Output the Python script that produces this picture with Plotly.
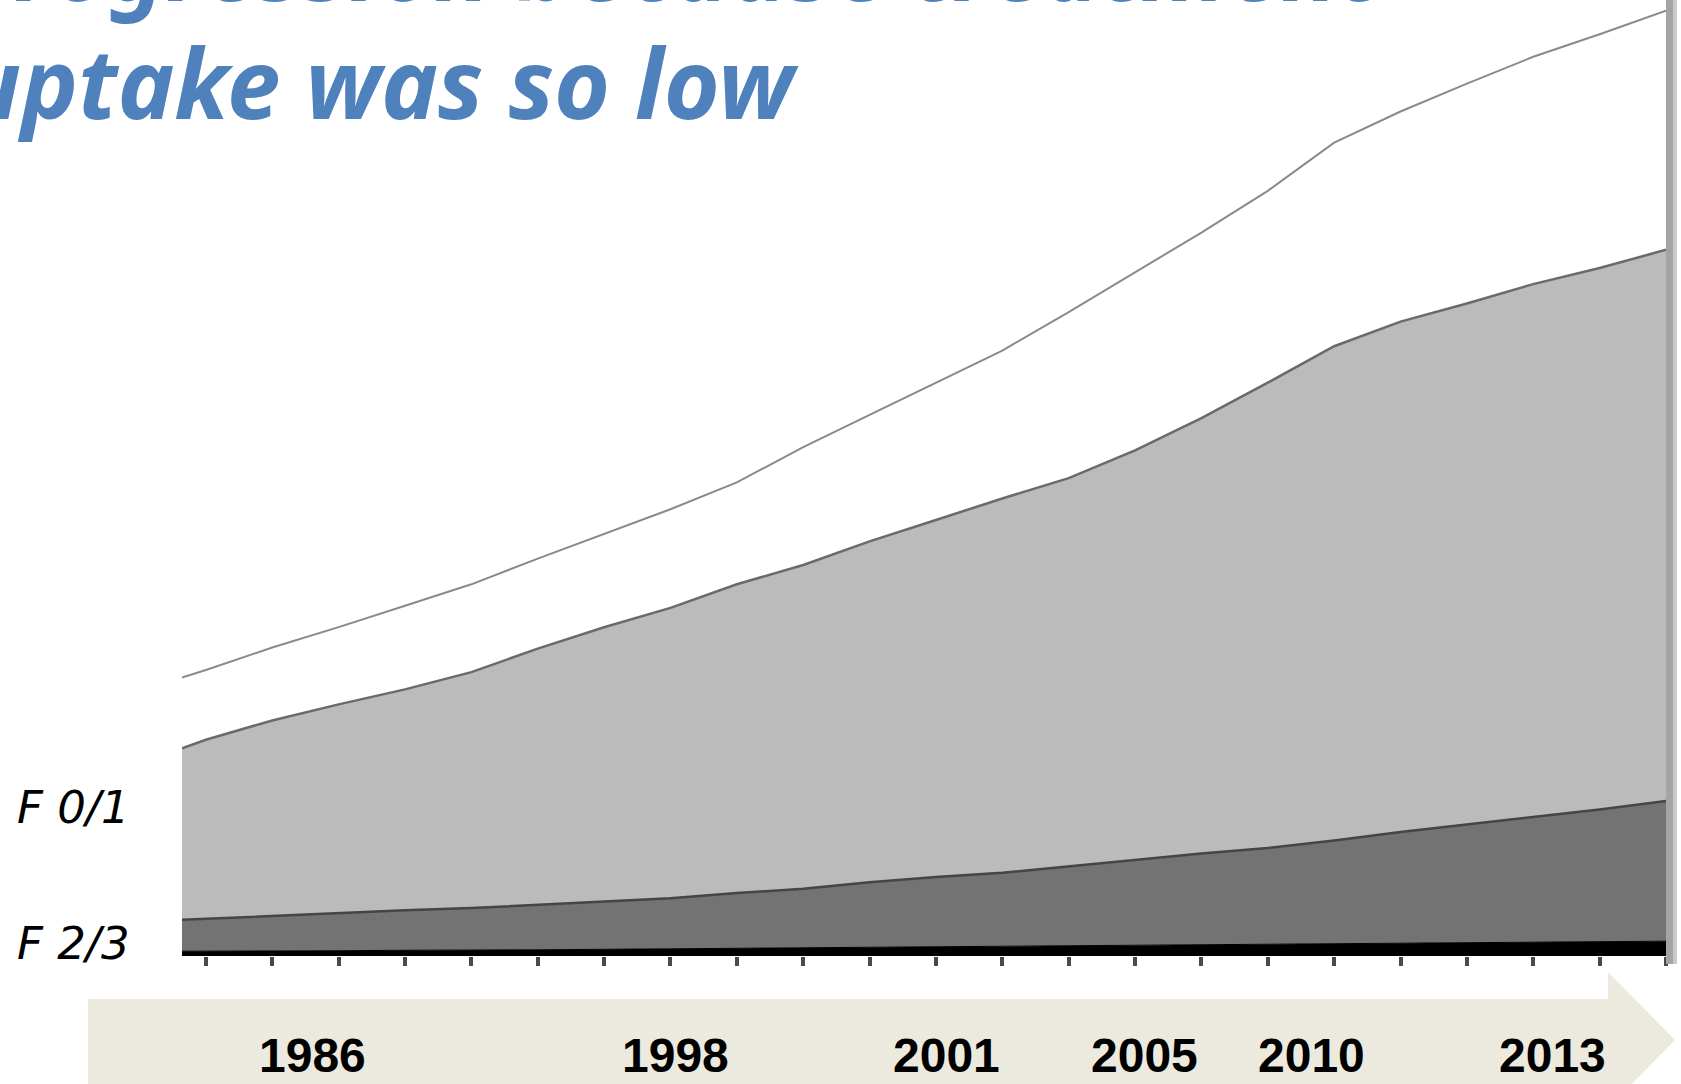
import plotly.graph_objects as go

# ---------------- data ----------------
# x grid (axis index units; ticks at integers)
x_index = [-0.36, 0, 1, 2, 3, 4, 5, 6, 7, 8, 9, 10, 11, 12, 13, 14, 15, 16,
           17, 18, 19, 20, 21, 22]

# stacked layer thicknesses, bottom to top
f4 = [0.5, 0.5, 0.5, 0.55, 0.6, 0.6, 0.65, 0.7, 0.75, 0.8, 0.85, 0.9, 0.95,
      1.0, 1.05, 1.1, 1.15, 1.2, 1.3, 1.35, 1.4, 1.45, 1.5, 1.55]
f23 = [3.28, 3.39, 3.62, 3.91, 4.19, 4.41, 4.70, 4.99, 5.28, 5.78, 6.18, 6.81,
       7.31, 7.71, 8.33, 8.96, 9.58, 10.10, 10.78, 11.63, 12.37, 13.09, 13.83,
       14.67]
f01 = [17.95, 18.73, 20.52, 21.86, 23.10, 24.68, 26.80, 28.70, 30.38, 32.30,
       33.87, 35.66, 37.35, 39.15, 40.60, 42.84, 45.53, 48.67, 51.70, 53.38,
       54.49, 55.74, 56.64, 57.65]
top_layer = [7.39, 7.29, 7.63, 8.08, 8.75, 9.19, 9.42, 9.76, 10.32, 10.66,
             12.33, 13.23, 14.36, 15.47, 17.38, 18.62, 19.41, 20.07, 21.30,
             21.98, 22.99, 23.78, 24.44, 25.01]

stage_labels = ["F 0/1", "F 2/3"]
years = ["1986", "1998", "2001", "2005", "2010", "2013"]
title_lines = ["on progression because treatment", "uptake was so low"]

# ---------------- layout helpers ----------------
W, H = 1681, 1084
L, R, T, B = 182, 15, 0, 128
PW, PH = W - L - R, H - T - B


def px(xp):
    return (xp - L) / PW


def py(yp):
    return (H - B - yp) / PH


fig = go.Figure()

fig.add_trace(go.Scatter(x=x_index, y=f4, stackgroup="s", mode="lines",
                         line=dict(color="#000000", width=1),
                         fillcolor="#000000", name="F 4"))
fig.add_trace(go.Scatter(x=x_index, y=f23, stackgroup="s", mode="lines",
                         line=dict(color="#454545", width=2.5),
                         fillcolor="#737373", name="F 2/3"))
fig.add_trace(go.Scatter(x=x_index, y=f01, stackgroup="s", mode="lines",
                         line=dict(color="#6a6a6a", width=2.5),
                         fillcolor="#BBBBBB", name="F 0/1"))
fig.add_trace(go.Scatter(x=x_index, y=top_layer, stackgroup="s", mode="lines",
                         line=dict(color="#8a8a8a", width=2),
                         fillcolor="rgba(255,255,255,0)", name="total"))

shapes = []
# timeline arrow
arrow_pts = [(88, 999), (1608, 999), (1608, 972), (1675, 1040),
             (1608, 1108), (1608, 1120), (88, 1120)]
path = "M " + " L ".join(f"{px(a):.5f},{py(b):.5f}" for a, b in arrow_pts) + " Z"
shapes.append(dict(type="path", xref="paper", yref="paper", path=path,
                   fillcolor="#ECEADF", line=dict(width=0), layer="below"))
# right border bar
shapes.append(dict(type="rect", xref="paper", yref="paper",
                   x0=px(1666), x1=px(1673), y0=py(964), y1=1,
                   fillcolor="#A4A4A4", line=dict(width=0)))
shapes.append(dict(type="rect", xref="paper", yref="paper",
                   x0=px(1673), x1=px(1677), y0=py(964), y1=1,
                   fillcolor="#C9C9C9", line=dict(width=0)))

annotations = []
year_px = [312, 675, 946, 1144, 1311, 1552]
for yr, xp in zip(years, year_px):
    annotations.append(dict(x=px(xp), y=py(1055), xref="paper", yref="paper",
                            text=yr, showarrow=False, xanchor="center",
                            yanchor="middle",
                            font=dict(family="Liberation Sans Narrow, Arial Narrow, Liberation Sans",
                                      size=48, color="#000000", weight="bold")))

for lab, (xp, yp) in zip(stage_labels, [(15, 807), (15, 943)]):
    annotations.append(dict(x=px(xp), y=py(yp), xref="paper", yref="paper",
                            text=lab, showarrow=False, xanchor="left",
                            yanchor="middle",
                            font=dict(family="Comic Sans MS, DejaVu Sans",
                                      size=45, color="#000000", style="italic")))

title_font = dict(family="Comic Sans MS, Noto Sans", size=96, color="#4F81BD",
                  weight="bold", style="italic")
annotations.append(dict(x=px(1383), y=py(-36), xref="paper", yref="paper",
                        text=title_lines[0], showarrow=False, xanchor="right",
                        yanchor="middle", font=title_font))
annotations.append(dict(x=px(-39), y=py(82), xref="paper", yref="paper",
                        text=title_lines[1], showarrow=False, xanchor="left",
                        yanchor="middle", font=title_font))

fig.update_layout(
    width=W, height=H,
    margin=dict(l=L, r=R, t=T, b=B),
    paper_bgcolor="white", plot_bgcolor="white",
    showlegend=False,
    shapes=shapes, annotations=annotations,
    xaxis=dict(range=[-0.36, 22], tick0=0, dtick=1, ticks="outside",
               ticklen=9, tickwidth=4, tickcolor="#4a4a4a",
               showticklabels=False, showgrid=False, zeroline=False,
               showline=False),
    yaxis=dict(range=[0, 100], showticklabels=False, showgrid=False,
               zeroline=False, showline=False, ticks=""),
)

fig.write_html("out.html")
